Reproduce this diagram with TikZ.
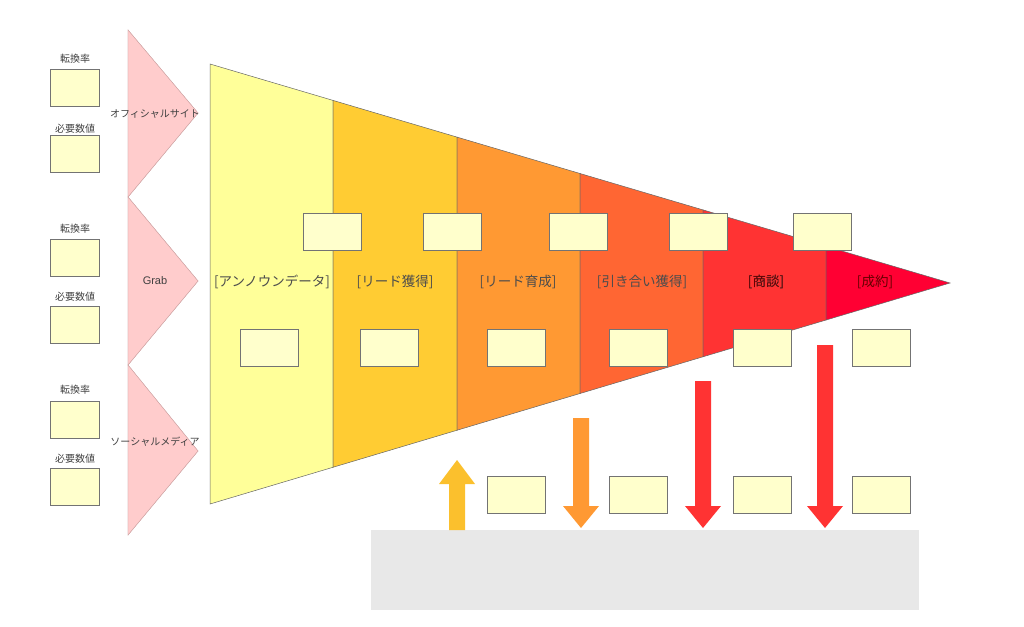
\documentclass[tikz,border=0pt]{standalone}
\usepackage{fontspec}
\newfontfamily\jp{Noto Sans CJK JP}
\usetikzlibrary{shapes.arrows}
\definecolor{c1}{HTML}{FFFF99}
\definecolor{c2}{HTML}{FFCC33}
\definecolor{c3}{HTML}{FF9933}
\definecolor{c4}{HTML}{FF6633}
\definecolor{c5}{HTML}{FF3333}
\definecolor{c6}{HTML}{FF0033}
\definecolor{bx}{HTML}{FFFFCC}
\definecolor{pk}{HTML}{FFCCCC}
\definecolor{gr}{HTML}{E8E8E8}
\definecolor{ua}{HTML}{FBC02D}
\begin{document}
\begin{tikzpicture}[x=1pt,y=-1pt,
  box/.style={draw=black!55,fill=bx,line width=0.6pt},
  seg/.style={draw=black!60,line width=0.5pt},
  lbl/.style={font=\jp\fontsize{10}{12}\selectfont,text=black!75,inner sep=0},
  stg/.style={font=\jp\fontsize{13.5}{16}\selectfont,text=black!70,inner sep=0},
  tri/.style={fill=pk,draw=pk!80!black,line width=0.4pt}]
\useasboundingbox (0,0) rectangle (1024,626);
% triangles
\fill[tri] (128,30) -- (198,113) -- (128,197) -- cycle;
\fill[tri] (128,197) -- (198,281) -- (128,365) -- cycle;
\fill[tri] (128,365) -- (198,451) -- (128,535) -- cycle;
\draw[tri] (128,30) -- (198,113) -- (128,197) -- (198,281) -- (128,365) -- (198,451) -- (128,535) -- cycle;
\node[lbl] (t1) at (155,114) {オフィシャルサイト};
\node[lbl,font=\fontspec{Liberation Sans}\fontsize{11}{13}\selectfont] (t2) at (155,281) {Grab};
\node[lbl] (t3) at (155,442) {ソーシャルメディア};
% left boxes
\foreach \a/\b/\c/\d [count=\i] in {59/88/129/154, 229/258/297/325, 390/420/459/487}{
  \node[lbl] (k\i) at (75,\a) {転換率};
  \node[box,minimum width=49,minimum height=37] (kb\i) at (75,\b) {};
  \node[lbl] (n\i) at (75,\c) {必要数値};
  \node[box,minimum width=49,minimum height=37] (nb\i) at (75,\d) {};
}
% funnel
\def\top#1{64+(#1-210)*0.29595}
\def\bot#1{504-(#1-210)*0.29865}
\foreach \xa/\xb/\c in {210/333/c1,333/457/c2,457/580/c3,580/703/c4,703/826/c5}{
  \filldraw[seg,fill=\c] (\xa,{\top{\xa}}) -- (\xb,{\top{\xb}}) -- (\xb,{\bot{\xb}}) -- (\xa,{\bot{\xa}}) -- cycle;
}
\filldraw[seg,fill=c6] (826,{\top{826}}) -- (950,283) -- (826,{\bot{826}}) -- cycle;
\foreach \x/\t [count=\i] in {272/{[アンノウンデータ]},395/{[リード獲得]},518/{[リード育成]},642/{[引き合い獲得]},766/{[商談]}}
  \node[stg] (s\i) at (\x,282) {\t};
\node[stg,text=black!60!red] (s6) at (875,282) {[成約]};
\node[stg,text=black!60!red] at (766,282) {[商談]};
% boxes in funnel
\foreach \x [count=\i] in {332,452,578,698,822}
  \node[box,minimum width=58,minimum height=37] (u\i) at (\x,231.5) {};
\foreach \x [count=\i] in {269,389,516,638,762,881}
  \node[box,minimum width=58,minimum height=37] (d\i) at (\x,347.5) {};
\foreach \x [count=\i] in {516,638,762,881}
  \node[box,minimum width=58,minimum height=37] (l\i) at (\x,494.5) {};
% gray
\fill[gr] (371,530) rectangle (919,610);
\node[inner sep=0] (g) at (645,570) {};
% arrows
\coordinate (a1s) at (457,530); \coordinate (a1e) at (457,460);
\coordinate (a2s) at (581,418); \coordinate (a2e) at (581,528);
\coordinate (a3s) at (703,381); \coordinate (a3e) at (703,528);
\coordinate (a4s) at (825,345); \coordinate (a4e) at (825,528);
\fill[ua] (449,530) -- (449,484) -- (439,484) -- (457,460) -- (475,484) -- (465,484) -- (465,530) -- cycle;
\fill[c3] (573,418) -- (573,506) -- (563,506) -- (581,528) -- (599,506) -- (589,506) -- (589,418) -- cycle;
\fill[c5] (695,381) -- (695,506) -- (685,506) -- (703,528) -- (721,506) -- (711,506) -- (711,381) -- cycle;
\fill[c5] (817,345) -- (817,506) -- (807,506) -- (825,528) -- (843,506) -- (833,506) -- (833,345) -- cycle;
\end{tikzpicture}
\end{document}
